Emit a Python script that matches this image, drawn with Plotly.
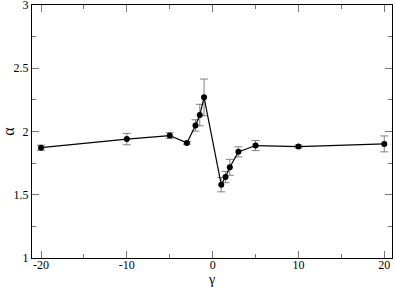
import plotly.graph_objects as go

gamma = [-20, -10, -5, -3, -2, -1.5, -1, 1, 1.5, 2, 3, 5, 10, 20]
alpha = [1.872, 1.94, 1.968, 1.91, 2.048, 2.13, 2.27, 1.58, 1.64, 1.717, 1.839, 1.889, 1.881, 1.902]
alpha_err = [0.02, 0.045, 0.022, 0.01, 0.045, 0.085, 0.145, 0.057, 0.045, 0.063, 0.04, 0.04, 0.012, 0.063]

fig = go.Figure()
fig.add_trace(go.Scatter(
    x=gamma, y=alpha, mode="lines+markers",
    line=dict(color="black", width=1.2),
    marker=dict(color="black", size=6),
    error_y=dict(type="data", array=alpha_err, visible=True,
                 color="#808080", thickness=1, width=4),
    showlegend=False,
))

font = dict(family="Liberation Serif, Times New Roman, serif", size=12, color="black")
tickc = "#777777"
fig.update_layout(
    width=395, height=287,
    margin=dict(l=32, r=3, t=5, b=29, autoexpand=False),
    paper_bgcolor="white", plot_bgcolor="white",
    font=font,
    xaxis=dict(range=[-21.05, 20.9], tickvals=[-20, -10, 0, 10, 20],
               ticktext=["-20", "-10", "0", "10", "20"],
               ticks="inside", ticklen=7, tickcolor=tickc,
               minor=dict(dtick=5, tick0=0, ticks="inside", ticklen=4, tickcolor=tickc),
               showline=True, linecolor="black", linewidth=1, mirror="ticks",
               showgrid=False, zeroline=False, automargin=False,
               ticklabeloverflow="allow", ticklabelstandoff=-4,
               title=dict(text="γ", font=dict(size=14), standoff=0)),
    yaxis=dict(range=[1, 3], tickvals=[1, 1.5, 2, 2.5, 3],
               ticktext=["1", "1.5", "2", "2.5", "3"],
               ticks="inside", ticklen=7, tickcolor=tickc,
               minor=dict(dtick=0.25, tick0=0, ticks="inside", ticklen=4, tickcolor=tickc),
               showline=True, linecolor="black", linewidth=1, mirror="ticks",
               showgrid=False, zeroline=False, automargin=False,
               ticklabeloverflow="allow",
               title=dict(text="α", font=dict(size=16), standoff=2)),
)
fig.write_html("out.html", config={"displayModeBar": False},
               post_script="document.body.style.margin='0';")
